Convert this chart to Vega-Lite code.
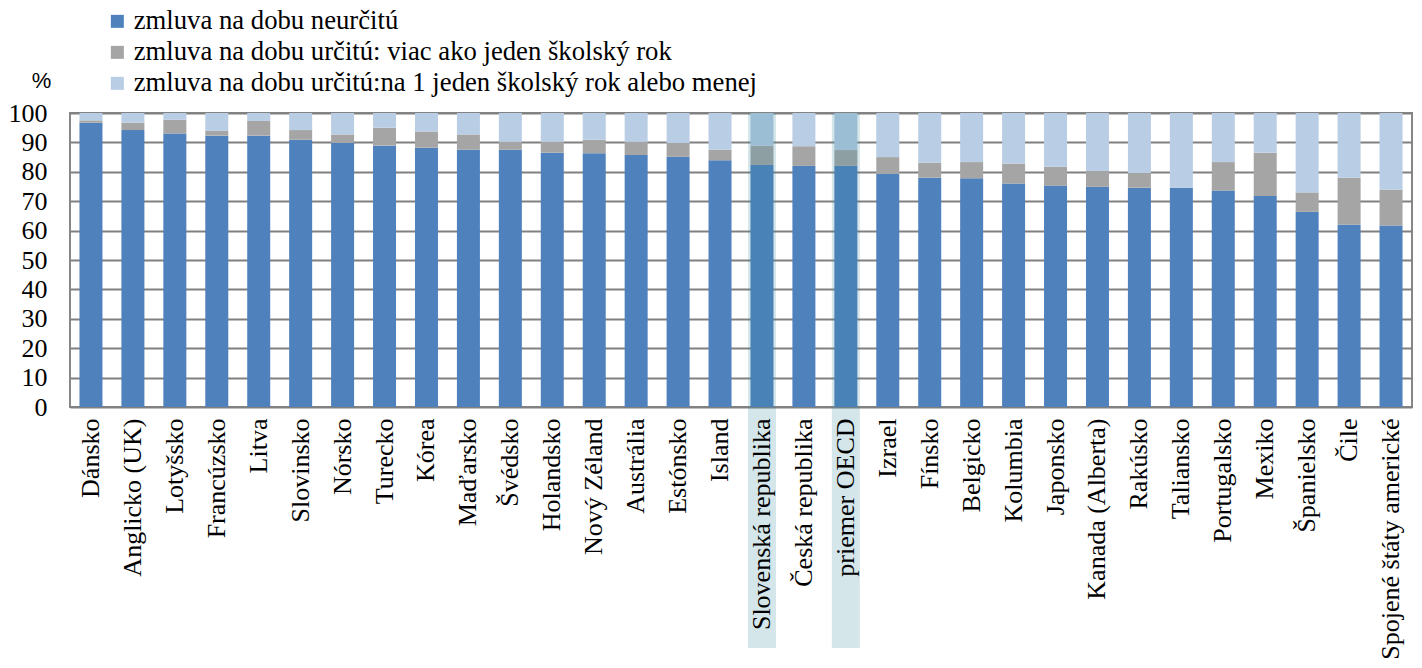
{
  "$schema": "https://vega.github.io/schema/vega-lite/v6.json",
  "width": 1342,
  "height": 294,
  "autosize": {"type": "none"},
  "padding": {"left": 70, "top": 113, "right": 10, "bottom": 261},
  "background": "white",
  "config": {
    "view": {"stroke": "#878787", "strokeWidth": 2},
    "font": "Liberation Serif",
    "axis": {"labelFont": "Liberation Serif", "labelFontSize": 26, "labelColor": "#000000"},
    "legend": {"labelFont": "Liberation Serif", "labelFontSize": 26.7, "labelColor": "#000000", "labelLimit": 1000}
  },
  "data": {
    "values": [
      {"krajina": "Dánsko", "typ": "zmluva na dobu neurčitú", "hodnota": 96.7},
      {"krajina": "Dánsko", "typ": "zmluva na dobu určitú: viac ako jeden školský rok", "hodnota": 0.8},
      {"krajina": "Dánsko", "typ": "zmluva na dobu určitú:na 1 jeden školský rok alebo menej", "hodnota": 2.5},
      {"krajina": "Anglicko (UK)", "typ": "zmluva na dobu neurčitú", "hodnota": 94.2},
      {"krajina": "Anglicko (UK)", "typ": "zmluva na dobu určitú: viac ako jeden školský rok", "hodnota": 2.5},
      {"krajina": "Anglicko (UK)", "typ": "zmluva na dobu určitú:na 1 jeden školský rok alebo menej", "hodnota": 3.3},
      {"krajina": "Lotyšsko", "typ": "zmluva na dobu neurčitú", "hodnota": 93.0},
      {"krajina": "Lotyšsko", "typ": "zmluva na dobu určitú: viac ako jeden školský rok", "hodnota": 4.7},
      {"krajina": "Lotyšsko", "typ": "zmluva na dobu určitú:na 1 jeden školský rok alebo menej", "hodnota": 2.3},
      {"krajina": "Francúzsko", "typ": "zmluva na dobu neurčitú", "hodnota": 92.3},
      {"krajina": "Francúzsko", "typ": "zmluva na dobu určitú: viac ako jeden školský rok", "hodnota": 1.6},
      {"krajina": "Francúzsko", "typ": "zmluva na dobu určitú:na 1 jeden školský rok alebo menej", "hodnota": 6.1},
      {"krajina": "Litva", "typ": "zmluva na dobu neurčitú", "hodnota": 92.3},
      {"krajina": "Litva", "typ": "zmluva na dobu určitú: viac ako jeden školský rok", "hodnota": 5.0},
      {"krajina": "Litva", "typ": "zmluva na dobu určitú:na 1 jeden školský rok alebo menej", "hodnota": 2.7},
      {"krajina": "Slovinsko", "typ": "zmluva na dobu neurčitú", "hodnota": 90.9},
      {"krajina": "Slovinsko", "typ": "zmluva na dobu určitú: viac ako jeden školský rok", "hodnota": 3.3},
      {"krajina": "Slovinsko", "typ": "zmluva na dobu určitú:na 1 jeden školský rok alebo menej", "hodnota": 5.8},
      {"krajina": "Nórsko", "typ": "zmluva na dobu neurčitú", "hodnota": 89.8},
      {"krajina": "Nórsko", "typ": "zmluva na dobu určitú: viac ako jeden školský rok", "hodnota": 2.9},
      {"krajina": "Nórsko", "typ": "zmluva na dobu určitú:na 1 jeden školský rok alebo menej", "hodnota": 7.3},
      {"krajina": "Turecko", "typ": "zmluva na dobu neurčitú", "hodnota": 88.9},
      {"krajina": "Turecko", "typ": "zmluva na dobu určitú: viac ako jeden školský rok", "hodnota": 6.1},
      {"krajina": "Turecko", "typ": "zmluva na dobu určitú:na 1 jeden školský rok alebo menej", "hodnota": 5.0},
      {"krajina": "Kórea", "typ": "zmluva na dobu neurčitú", "hodnota": 88.2},
      {"krajina": "Kórea", "typ": "zmluva na dobu určitú: viac ako jeden školský rok", "hodnota": 5.5},
      {"krajina": "Kórea", "typ": "zmluva na dobu určitú:na 1 jeden školský rok alebo menej", "hodnota": 6.3},
      {"krajina": "Maďarsko", "typ": "zmluva na dobu neurčitú", "hodnota": 87.5},
      {"krajina": "Maďarsko", "typ": "zmluva na dobu určitú: viac ako jeden školský rok", "hodnota": 5.2},
      {"krajina": "Maďarsko", "typ": "zmluva na dobu určitú:na 1 jeden školský rok alebo menej", "hodnota": 7.3},
      {"krajina": "Švédsko", "typ": "zmluva na dobu neurčitú", "hodnota": 87.5},
      {"krajina": "Švédsko", "typ": "zmluva na dobu určitú: viac ako jeden školský rok", "hodnota": 2.7},
      {"krajina": "Švédsko", "typ": "zmluva na dobu určitú:na 1 jeden školský rok alebo menej", "hodnota": 9.8},
      {"krajina": "Holandsko", "typ": "zmluva na dobu neurčitú", "hodnota": 86.5},
      {"krajina": "Holandsko", "typ": "zmluva na dobu určitú: viac ako jeden školský rok", "hodnota": 3.7},
      {"krajina": "Holandsko", "typ": "zmluva na dobu určitú:na 1 jeden školský rok alebo menej", "hodnota": 9.8},
      {"krajina": "Nový Zéland", "typ": "zmluva na dobu neurčitú", "hodnota": 86.3},
      {"krajina": "Nový Zéland", "typ": "zmluva na dobu určitú: viac ako jeden školský rok", "hodnota": 4.6},
      {"krajina": "Nový Zéland", "typ": "zmluva na dobu určitú:na 1 jeden školský rok alebo menej", "hodnota": 9.1},
      {"krajina": "Austrália", "typ": "zmluva na dobu neurčitú", "hodnota": 85.7},
      {"krajina": "Austrália", "typ": "zmluva na dobu určitú: viac ako jeden školský rok", "hodnota": 4.5},
      {"krajina": "Austrália", "typ": "zmluva na dobu určitú:na 1 jeden školský rok alebo menej", "hodnota": 9.8},
      {"krajina": "Estónsko", "typ": "zmluva na dobu neurčitú", "hodnota": 85.1},
      {"krajina": "Estónsko", "typ": "zmluva na dobu určitú: viac ako jeden školský rok", "hodnota": 4.7},
      {"krajina": "Estónsko", "typ": "zmluva na dobu určitú:na 1 jeden školský rok alebo menej", "hodnota": 10.2},
      {"krajina": "Island", "typ": "zmluva na dobu neurčitú", "hodnota": 83.9},
      {"krajina": "Island", "typ": "zmluva na dobu určitú: viac ako jeden školský rok", "hodnota": 3.6},
      {"krajina": "Island", "typ": "zmluva na dobu určitú:na 1 jeden školský rok alebo menej", "hodnota": 12.5},
      {"krajina": "Slovenská republika", "typ": "zmluva na dobu neurčitú", "hodnota": 82.3},
      {"krajina": "Slovenská republika", "typ": "zmluva na dobu určitú: viac ako jeden školský rok", "hodnota": 6.6},
      {"krajina": "Slovenská republika", "typ": "zmluva na dobu určitú:na 1 jeden školský rok alebo menej", "hodnota": 11.1},
      {"krajina": "Česká republika", "typ": "zmluva na dobu neurčitú", "hodnota": 82.0},
      {"krajina": "Česká republika", "typ": "zmluva na dobu určitú: viac ako jeden školský rok", "hodnota": 6.7},
      {"krajina": "Česká republika", "typ": "zmluva na dobu určitú:na 1 jeden školský rok alebo menej", "hodnota": 11.3},
      {"krajina": "priemer OECD", "typ": "zmluva na dobu neurčitú", "hodnota": 82.0},
      {"krajina": "priemer OECD", "typ": "zmluva na dobu určitú: viac ako jeden školský rok", "hodnota": 5.4},
      {"krajina": "priemer OECD", "typ": "zmluva na dobu určitú:na 1 jeden školský rok alebo menej", "hodnota": 12.6},
      {"krajina": "Izrael", "typ": "zmluva na dobu neurčitú", "hodnota": 79.3},
      {"krajina": "Izrael", "typ": "zmluva na dobu určitú: viac ako jeden školský rok", "hodnota": 5.7},
      {"krajina": "Izrael", "typ": "zmluva na dobu určitú:na 1 jeden školský rok alebo menej", "hodnota": 15.0},
      {"krajina": "Fínsko", "typ": "zmluva na dobu neurčitú", "hodnota": 78.0},
      {"krajina": "Fínsko", "typ": "zmluva na dobu určitú: viac ako jeden školský rok", "hodnota": 5.1},
      {"krajina": "Fínsko", "typ": "zmluva na dobu určitú:na 1 jeden školský rok alebo menej", "hodnota": 16.9},
      {"krajina": "Belgicko", "typ": "zmluva na dobu neurčitú", "hodnota": 77.8},
      {"krajina": "Belgicko", "typ": "zmluva na dobu určitú: viac ako jeden školský rok", "hodnota": 5.5},
      {"krajina": "Belgicko", "typ": "zmluva na dobu určitú:na 1 jeden školský rok alebo menej", "hodnota": 16.7},
      {"krajina": "Kolumbia", "typ": "zmluva na dobu neurčitú", "hodnota": 76.0},
      {"krajina": "Kolumbia", "typ": "zmluva na dobu určitú: viac ako jeden školský rok", "hodnota": 6.8},
      {"krajina": "Kolumbia", "typ": "zmluva na dobu určitú:na 1 jeden školský rok alebo menej", "hodnota": 17.2},
      {"krajina": "Japonsko", "typ": "zmluva na dobu neurčitú", "hodnota": 75.3},
      {"krajina": "Japonsko", "typ": "zmluva na dobu určitú: viac ako jeden školský rok", "hodnota": 6.4},
      {"krajina": "Japonsko", "typ": "zmluva na dobu určitú:na 1 jeden školský rok alebo menej", "hodnota": 18.3},
      {"krajina": "Kanada (Alberta)", "typ": "zmluva na dobu neurčitú", "hodnota": 74.9},
      {"krajina": "Kanada (Alberta)", "typ": "zmluva na dobu určitú: viac ako jeden školský rok", "hodnota": 5.4},
      {"krajina": "Kanada (Alberta)", "typ": "zmluva na dobu určitú:na 1 jeden školský rok alebo menej", "hodnota": 19.7},
      {"krajina": "Rakúsko", "typ": "zmluva na dobu neurčitú", "hodnota": 74.6},
      {"krajina": "Rakúsko", "typ": "zmluva na dobu určitú: viac ako jeden školský rok", "hodnota": 5.0},
      {"krajina": "Rakúsko", "typ": "zmluva na dobu určitú:na 1 jeden školský rok alebo menej", "hodnota": 20.4},
      {"krajina": "Taliansko", "typ": "zmluva na dobu neurčitú", "hodnota": 74.6},
      {"krajina": "Taliansko", "typ": "zmluva na dobu určitú: viac ako jeden školský rok", "hodnota": 0},
      {"krajina": "Taliansko", "typ": "zmluva na dobu určitú:na 1 jeden školský rok alebo menej", "hodnota": 25.4},
      {"krajina": "Portugalsko", "typ": "zmluva na dobu neurčitú", "hodnota": 73.6},
      {"krajina": "Portugalsko", "typ": "zmluva na dobu určitú: viac ako jeden školský rok", "hodnota": 9.7},
      {"krajina": "Portugalsko", "typ": "zmluva na dobu určitú:na 1 jeden školský rok alebo menej", "hodnota": 16.7},
      {"krajina": "Mexiko", "typ": "zmluva na dobu neurčitú", "hodnota": 71.8},
      {"krajina": "Mexiko", "typ": "zmluva na dobu určitú: viac ako jeden školský rok", "hodnota": 14.7},
      {"krajina": "Mexiko", "typ": "zmluva na dobu určitú:na 1 jeden školský rok alebo menej", "hodnota": 13.5},
      {"krajina": "Španielsko", "typ": "zmluva na dobu neurčitú", "hodnota": 66.4},
      {"krajina": "Španielsko", "typ": "zmluva na dobu určitú: viac ako jeden školský rok", "hodnota": 6.6},
      {"krajina": "Španielsko", "typ": "zmluva na dobu určitú:na 1 jeden školský rok alebo menej", "hodnota": 27.0},
      {"krajina": "Čile", "typ": "zmluva na dobu neurčitú", "hodnota": 62.0},
      {"krajina": "Čile", "typ": "zmluva na dobu určitú: viac ako jeden školský rok", "hodnota": 16.0},
      {"krajina": "Čile", "typ": "zmluva na dobu určitú:na 1 jeden školský rok alebo menej", "hodnota": 22.0},
      {"krajina": "Spojené štáty americké", "typ": "zmluva na dobu neurčitú", "hodnota": 61.7},
      {"krajina": "Spojené štáty americké", "typ": "zmluva na dobu určitú: viac ako jeden školský rok", "hodnota": 12.2},
      {"krajina": "Spojené štáty americké", "typ": "zmluva na dobu určitú:na 1 jeden školský rok alebo menej", "hodnota": 26.1}
    ]
  },
  "encoding": {
    "x": {
      "field": "krajina",
      "type": "nominal",
      "sort": null,
      "scale": {"paddingInner": 0, "paddingOuter": 0},
      "axis": {
        "title": null,
        "labelAngle": -90,
        "domain": false,
        "ticks": false,
        "labelPadding": 11,
        "labelLimit": 400,
        "labelFont": "Liberation Serif",
        "labelFontSize": 26,
        "labelColor": "#000000",
        "zindex": 1
      }
    }
  },
  "layer": [
    {
      "mark": {"type": "bar", "width": 23},
      "encoding": {
        "y": {
          "field": "hodnota",
          "type": "quantitative",
          "stack": "zero",
          "scale": {"domain": [0, 100], "nice": false, "zero": true},
          "axis": {
            "title": "%",
            "titleAngle": 0,
            "titleFont": "Liberation Sans",
            "titleFontSize": 22,
            "titleFontWeight": "normal",
            "titleColor": "#000000",
            "titleX": -29,
            "titleY": -33,
            "titleAlign": "center",
            "titleBaseline": "middle",
            "values": [0, 10, 20, 30, 40, 50, 60, 70, 80, 90, 100],
            "labelOverlap": false,
            "domain": false,
            "ticks": false,
            "grid": true,
            "gridColor": "#808080",
            "gridWidth": 2,
            "gridOpacity": 1,
            "labelPadding": 23,
            "labelFont": "Liberation Serif",
            "labelFontSize": 26,
            "labelColor": "#000000"
          }
        },
        "color": {
          "field": "typ",
          "type": "nominal",
          "scale": {
            "domain": [
              "zmluva na dobu neurčitú",
              "zmluva na dobu určitú: viac ako jeden školský rok",
              "zmluva na dobu určitú:na 1 jeden školský rok alebo menej"
            ],
            "range": ["#4f81bd", "#a5a5a5", "#b9cde5"]
          },
          "legend": {
            "title": null,
            "orient": "none",
            "legendX": 34,
            "legendY": -105,
            "symbolType": "square",
            "symbolSize": 169,
            "symbolStrokeWidth": 0,
            "labelFont": "Liberation Serif",
            "labelFontSize": 26.7,
            "labelColor": "#000000",
            "labelOffset": 3,
            "labelLimit": 1000,
            "rowPadding": 3
          }
        },
        "order": {"field": "typ", "sort": "ascending"}
      }
    },
    {
      "transform": [
        {"filter": {"field": "krajina", "oneOf": ["Slovenská republika", "priemer OECD"]}},
        {"filter": {"field": "typ", "equal": "zmluva na dobu neurčitú"}}
      ],
      "mark": {"type": "bar", "width": 28, "color": "#368a9d", "opacity": 0.21, "clip": false},
      "encoding": {
        "y": {
          "datum": 100,
          "axis": {
            "title": "%",
            "titleAngle": 0,
            "titleFont": "Liberation Sans",
            "titleFontSize": 22,
            "titleFontWeight": "normal",
            "titleColor": "#000000",
            "titleX": -29,
            "titleY": -33,
            "titleAlign": "center",
            "titleBaseline": "middle",
            "values": [0, 10, 20, 30, 40, 50, 60, 70, 80, 90, 100],
            "labelOverlap": false,
            "domain": false,
            "ticks": false,
            "grid": true,
            "gridColor": "#808080",
            "gridWidth": 2,
            "gridOpacity": 1,
            "labelPadding": 23,
            "labelFont": "Liberation Serif",
            "labelFontSize": 26,
            "labelColor": "#000000"
          }
        },
        "y2": {"datum": -82}
      }
    }
  ]
}
